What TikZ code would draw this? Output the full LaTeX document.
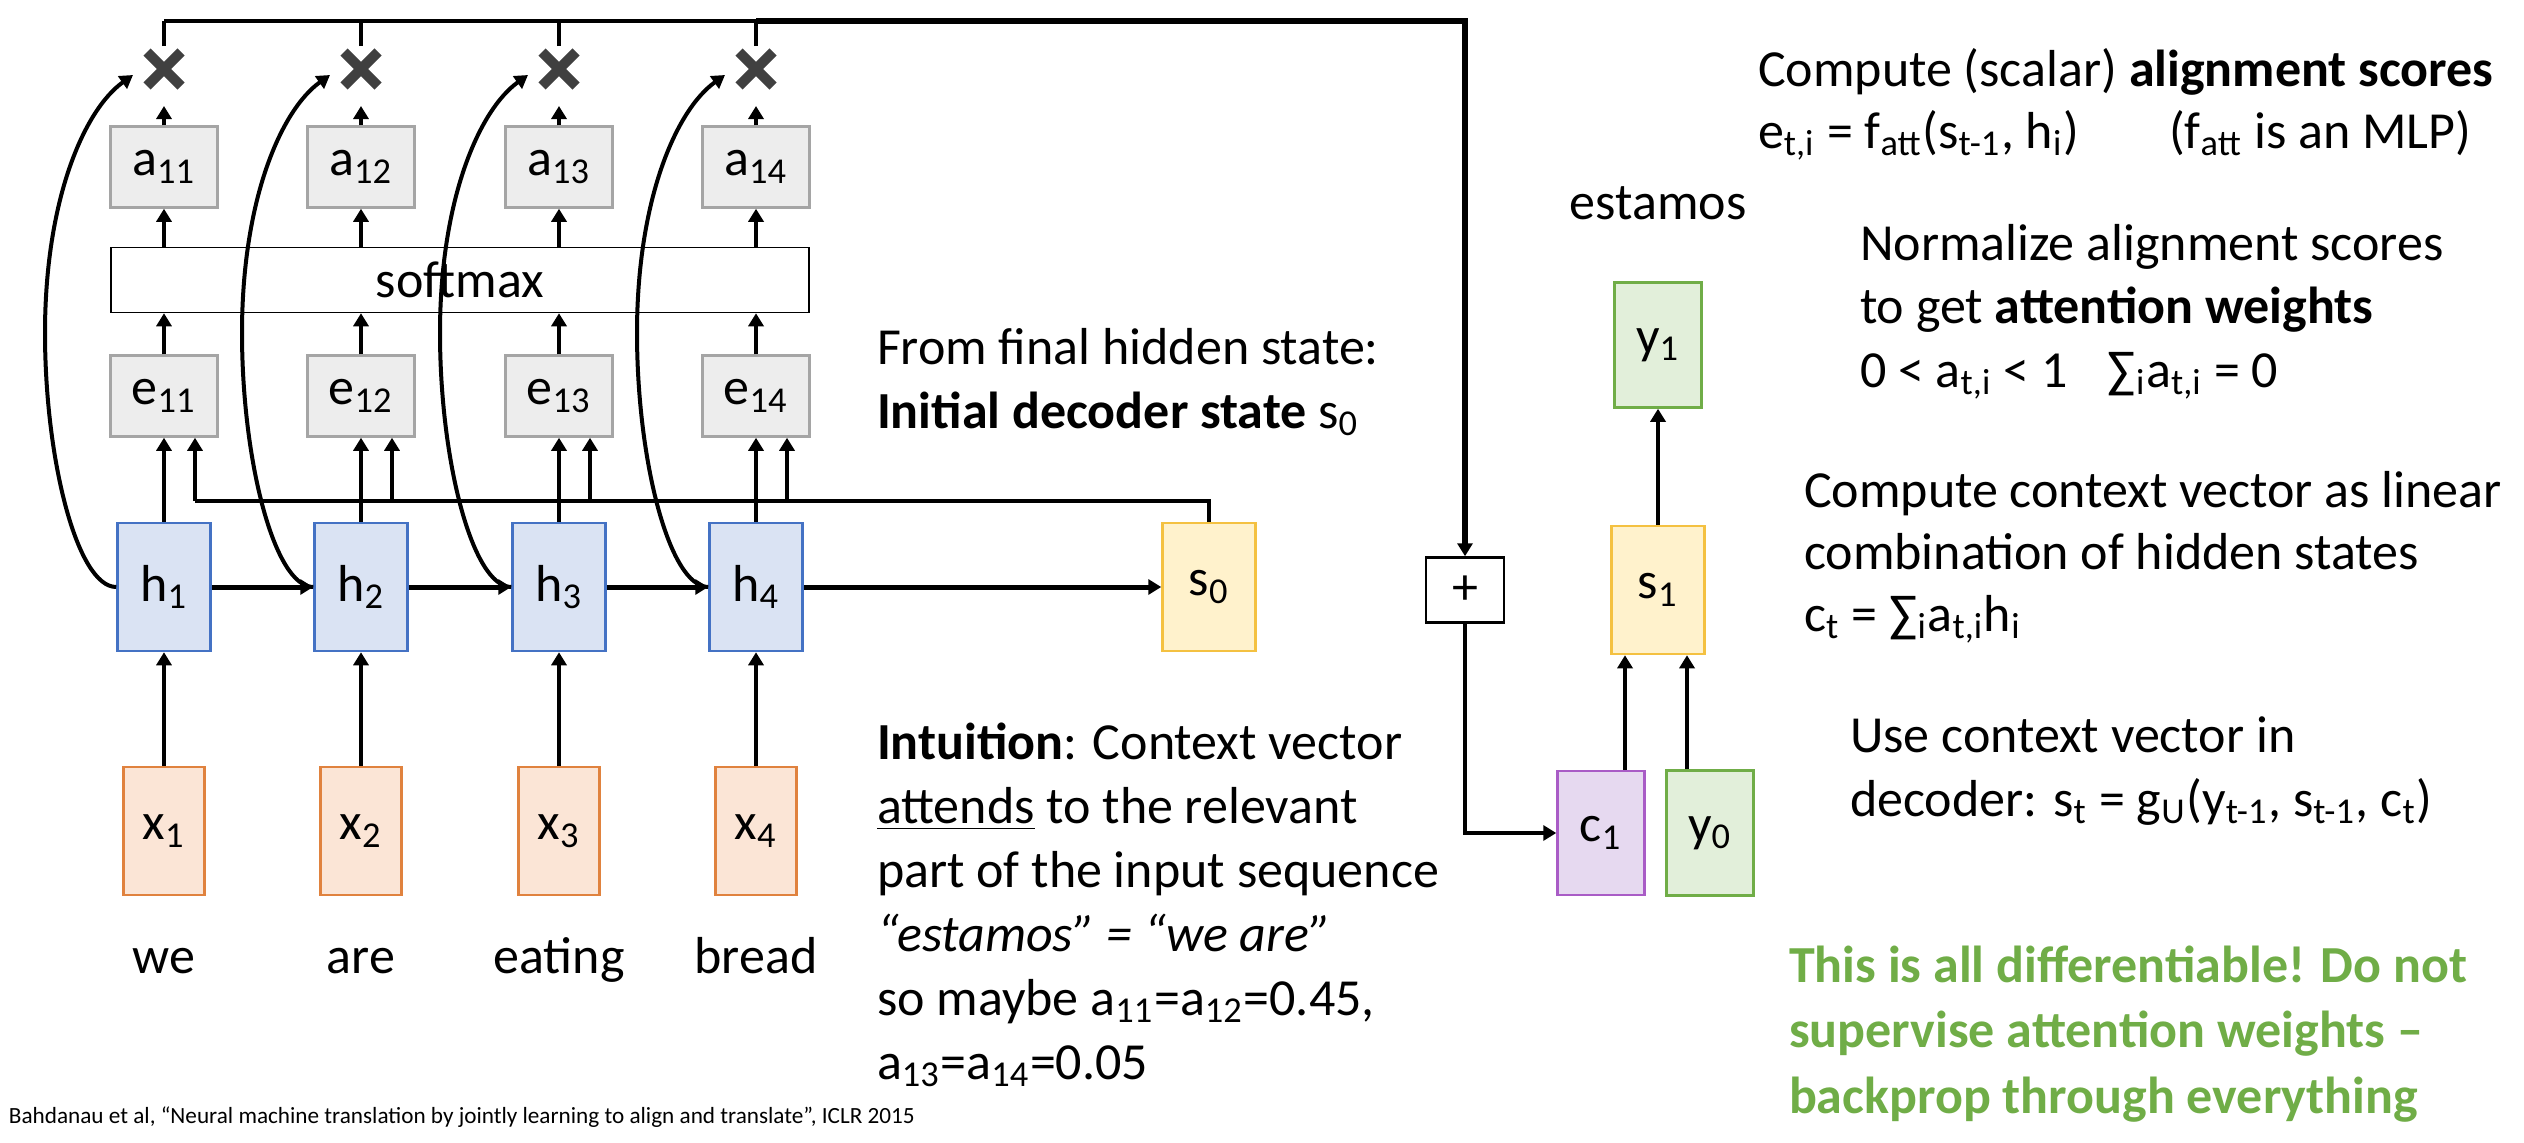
\documentclass[tikz,border=0pt]{standalone}
\usepackage{fontspec}
\setmainfont{Carlito}
\usetikzlibrary{arrows.meta,shapes.misc}
\definecolor{grayfill}{HTML}{EDEDED}
\definecolor{grayline}{HTML}{A5A5A5}
\definecolor{bluefill}{HTML}{DAE3F3}
\definecolor{blueline}{HTML}{4472C4}
\definecolor{orangefill}{HTML}{FBE5D6}
\definecolor{orangeline}{HTML}{E0823E}
\definecolor{yellowfill}{HTML}{FFF2CC}
\definecolor{yellowline}{HTML}{F4C141}
\definecolor{greenfill}{HTML}{E2EFDA}
\definecolor{greenline}{HTML}{70AD47}
\definecolor{purplefill}{HTML}{E6D9F0}
\definecolor{purpleline}{HTML}{A95CC6}
\definecolor{crossgray}{HTML}{404040}
\definecolor{notegreen}{HTML}{70AD47}
\tikzset{
  gbox/.style={draw=grayline,fill=grayfill,line width=0.25mm,minimum width=10.7mm,minimum height=8.1mm,inner sep=0pt},
  hbox/.style={draw=blueline,fill=bluefill,line width=0.25mm,minimum width=9.3mm,minimum height=12.8mm,inner sep=0pt},
  xbox/.style={draw=orangeline,fill=orangefill,line width=0.25mm,minimum width=8.1mm,minimum height=12.8mm,inner sep=0pt},
  sbox/.style={draw=yellowline,fill=yellowfill,line width=0.25mm,minimum width=9.3mm,minimum height=12.8mm,inner sep=0pt},
  ybox/.style={draw=greenline,fill=greenfill,line width=0.25mm,minimum width=8.7mm,minimum height=12.5mm,inner sep=0pt},
  cbox/.style={draw=purpleline,fill=purplefill,line width=0.25mm,minimum width=8.7mm,minimum height=12.4mm,inner sep=0pt},
  mult/.style={cross out,draw=crossgray,line width=1mm,minimum size=2.4mm,inner sep=0pt},
  txt/.style={anchor=base west,align=left,inner sep=0pt}
}
\begin{document}
\begin{tikzpicture}[x=0.1mm,y=-0.1mm,>={Triangle[length=1.3mm,width=1.5mm]},line width=0.4mm,
  font=\fontsize{14.8}{18.2}\selectfont]
\useasboundingbox (0,0) rectangle (2524,1142);
\coordinate (bus) at (0,21);
\coordinate (sline) at (0,501);
\foreach \i/\c/\w in {1/164/we,2/361/are,3/559/eating,4/756/bread}{
  \node[xbox] (x\i) at (\c,831) {x\textsubscript{\i}};
  \node[hbox] (h\i) at (\c,587) {h\textsubscript{\i}};
  \node[gbox] (e\i) at (\c,396) {e\textsubscript{1\i}};
  \node[gbox] (a\i) at (\c,167) {a\textsubscript{1\i}};
  \node[mult] (m\i) at (\c,69) {};
  \node[anchor=base] (w\i) at (\c,973) {\w};
  \coordinate (k\i) at ({\c-119},333);
  \coordinate (t\i) at ({\c-31},75);
}
\node[draw,line width=0.15mm,minimum width=69.8mm,minimum height=6.5mm,inner sep=0pt] (soft) at (460,280) {softmax};
\node[sbox] (s0) at (1209,587) {s\textsubscript{0}};
\node[draw,line width=0.25mm,minimum width=7.8mm,minimum height=6.5mm,inner sep=0pt] (plus) at (1465,590) {+};
\node[cbox] (c1) at (1601,833) {c\textsubscript{1}};
\node[ybox] (y0) at (1710,833) {y\textsubscript{0}};
\node[sbox] (s1) at (1658,590) {s\textsubscript{1}};
\node[ybox] (y1) at (1658,345) {y\textsubscript{1}};
\node[anchor=base] (out) at (1658,219) {estamos};

\foreach \i in {1,2,3,4}{
  \draw[->] (x\i) -- (h\i);
  \draw[->] (h\i) -- (e\i);
  \draw[->] ([xshift=3.1mm]e\i.south |- sline) -- ([xshift=3.1mm]e\i.south);
  \draw[->] (e\i) -- (e\i |- soft.south);
  \draw[->] (a\i.south |- soft.north) -- (a\i);
  \draw[->,shorten >=2mm] (a\i) -- (m\i);
  \draw[shorten <=0.6mm] (m\i.north) -- (m\i.north |- bus);
  \draw[->] (h\i.west) .. controls +(-39,0) and +(0,127) .. (k\i) .. controls +(0,-133) and +(-49,35) .. (t\i);
}
\foreach \i/\j in {1/2,2/3,3/4}
  \draw[->,line width=0.5mm] (h\i) -- (h\j);
\draw[->,line width=0.5mm] (h4) -- (s0);
\draw (s0.north) |- ([xshift=3.1mm]e1.south |- sline);
\draw (m1.north |- bus) -- (m4.north |- bus);
\draw[->,line width=0.55mm] (m4.north |- bus) -| (plus);
\draw[->] (plus) |- (c1);
\draw[->] ([xshift=2.4mm]c1.north) -- ([xshift=2.4mm]c1.north |- s1.south);
\draw[->] ([xshift=-2.3mm]y0.north) -- ([xshift=-2.3mm]y0.north |- s1.south);
\draw[->] (s1) -- (y1);

\node[txt] (from) at (875,428) {From final hidden state:\\\textbf{Initial decoder state} s\textsubscript{0}};
\node[txt] (intu) at (875,1079) {\textbf{Intuition}: Context vector\\\underline{attends} to the relevant\\part of the input sequence\\\textit{“estamos” = “we are”}\\so maybe a\textsubscript{11}=a\textsubscript{12}=0.45,\\a\textsubscript{13}=a\textsubscript{14}=0.05};
\node[txt,font=\fontsize{14.8}{17.6}\selectfont] (score) at (1756,148) {Compute (scalar) \textbf{alignment scores}\\e\textsubscript{t,i} = f\textsubscript{att}(s\textsubscript{t-1}, h\textsubscript{i})\hspace{9mm}(f\textsubscript{att} is an MLP)};
\node[txt,font=\fontsize{14.8}{18}\selectfont] (norm) at (1858,387) {Normalize alignment scores\\to get \textbf{attention weights}\\0 < a\textsubscript{t,i} < 1\hspace{4mm}∑\textsubscript{i}a\textsubscript{t,i} = 0};
\node[txt,font=\fontsize{14.8}{17.6}\selectfont] (ctx) at (1802,631) {Compute context vector as linear\\combination of hidden states\\c\textsubscript{t} = ∑\textsubscript{i}a\textsubscript{t,i}h\textsubscript{i}};
\node[txt,font=\fontsize{14.8}{18}\selectfont] (use) at (1848,816) {Use context vector in\\decoder: s\textsubscript{t} = g\textsubscript{U}(y\textsubscript{t-1}, s\textsubscript{t-1}, c\textsubscript{t})};
\node[txt,text=notegreen,font=\fontsize{14.8}{18.5}\selectfont\bfseries] (diff) at (1787,1113) {This is all differentiable! Do not\\supervise attention weights –\\backprop through everything};
\node[txt,font=\fontsize{6.6}{8}\selectfont] (cite) at (7,1123) {Bahdanau et al, “Neural machine translation by jointly learning to align and translate”, ICLR 2015};
\end{tikzpicture}
\end{document}
